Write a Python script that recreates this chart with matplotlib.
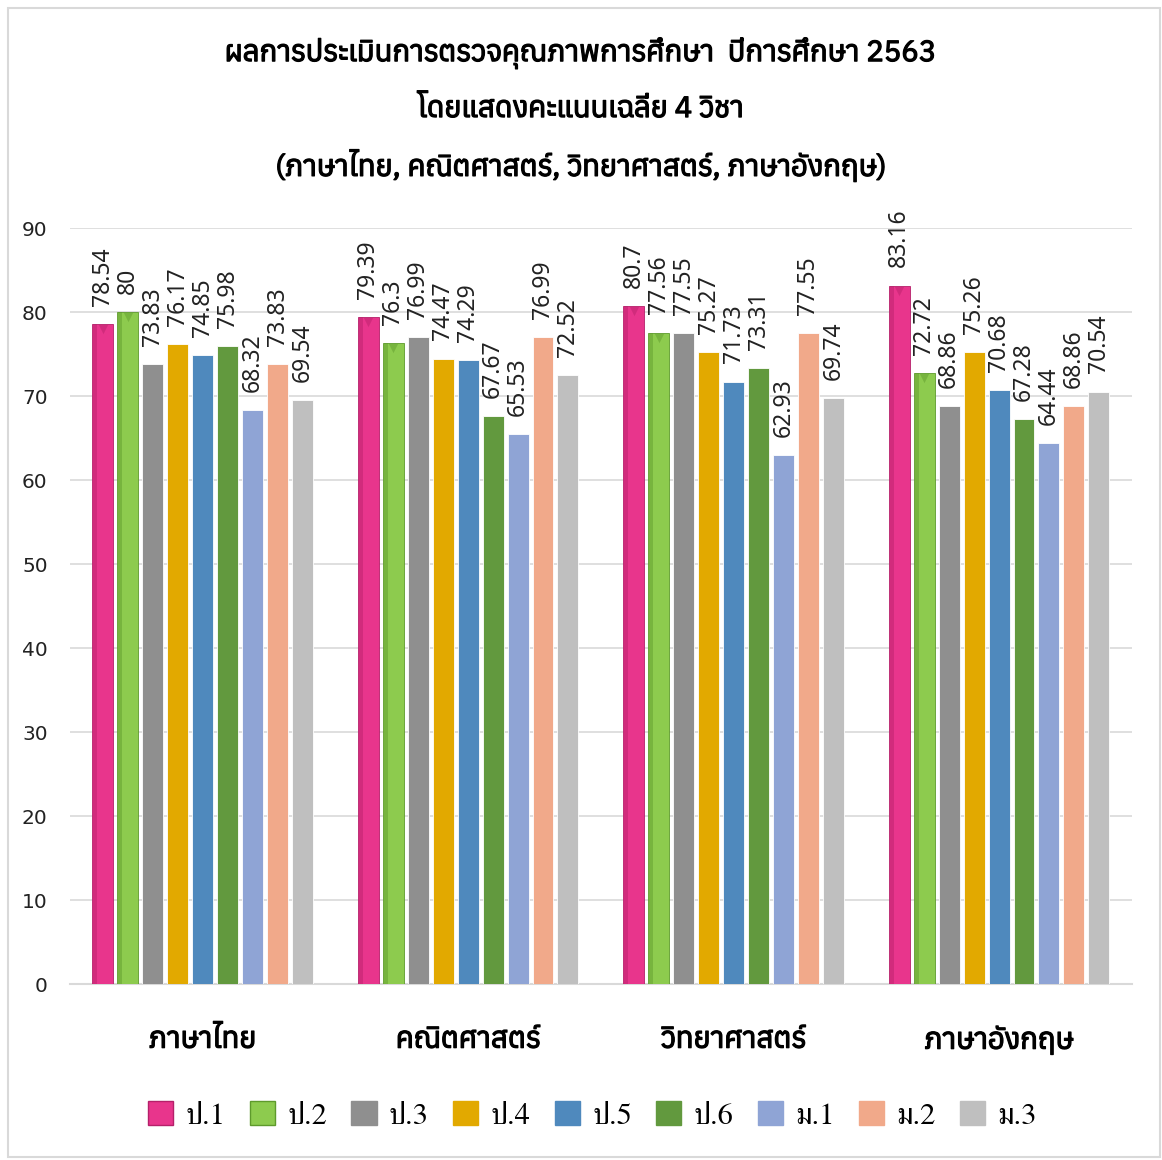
import matplotlib
matplotlib.use("Agg")
from matplotlib import pyplot as plt
from matplotlib import font_manager
from matplotlib import patheffects
from matplotlib.ft2font import FT2Font
from matplotlib.patches import Patch, Rectangle
import numpy as np

# data
subjects = ["ภาษาไทย", "คณิตศาสตร์", "วิทยาศาสตร์", "ภาษาอังกฤษ"]
grades = ["ป.1", "ป.2", "ป.3", "ป.4", "ป.5", "ป.6", "ม.1", "ม.2", "ม.3"]
thai = [78.54, 80, 73.83, 76.17, 74.85, 75.98, 68.32, 73.83, 69.54]
math = [79.39, 76.3, 76.99, 74.47, 74.29, 67.67, 65.53, 76.99, 72.52]
science = [80.7, 77.56, 77.55, 75.27, 71.73, 73.31, 62.93, 77.55, 69.74]
english = [83.16, 72.72, 68.86, 75.26, 70.68, 67.28, 64.44, 68.86, 70.54]
labels = [["78.54", "80", "73.83", "76.17", "74.85", "75.98", "68.32", "73.83", "69.54"],
          ["79.39", "76.3", "76.99", "74.47", "74.29", "67.67", "65.53", "76.99", "72.52"],
          ["80.7", "77.56", "77.55", "75.27", "71.73", "73.31", "62.93", "77.55", "69.74"],
          ["83.16", "72.72", "68.86", "75.26", "70.68", "67.28", "64.44", "68.86", "70.54"]]

colors = ["#E8358C", "#8DCB4E", "#8F8F8F", "#E2A900", "#4F89BD",
          "#62993E", "#8FA4D5", "#F1A98A", "#BFBFBF"]
dark = ["#B5206A", "#5E9A2C"]

# find fonts that can draw thai
thai_fonts = []
for f in font_manager.fontManager.ttflist:
    try:
        if 0x0E01 in FT2Font(f.fname).get_charmap():
            thai_fonts.append(f.name)
    except Exception:
        pass
thai_fonts = sorted(set(thai_fonts))
serif_thai = [n for n in thai_fonts if "Serif" in n]
sans_thai = [n for n in thai_fonts if "Serif" not in n] or thai_fonts
title_family = sans_thai[:1] + ["DejaVu Sans"]
legend_family = (serif_thai or sans_thai)[:1] + ["DejaVu Serif"]

# fake bold, the thai font may have only one weight
bold = [patheffects.withStroke(linewidth=0.9, foreground="black")]

data = np.array([thai, math, science, english])
n = len(grades)
step = 0.094
width = 0.079
x = np.arange(len(subjects))

fig = plt.figure(figsize=(11.62, 11.60), dpi=100)
fig.patches.append(Rectangle((0.007, 0.003), 0.991, 0.99, transform=fig.transFigure,
                             fill=False, edgecolor="#D9D9D9", linewidth=1.5))
ax = fig.add_axes([0.0602, 0.1517, 0.9138, 0.6517])

for i in range(n):
    pos = x + (i - (n - 1) / 2) * step
    ax.bar(pos, data[:, i], width, color=colors[i], zorder=3,
           edgecolor="white" if i > 1 else dark[i], linewidth=0.6)
    if i < 2:
        # bevel look: darker left strip + triangle at top
        ax.bar(pos - width * 0.36, data[:, i], width * 0.2, color=dark[i],
               alpha=0.45, zorder=4, linewidth=0)
        ax.scatter(pos, data[:, i] - 0.6, marker="v", s=45, color=dark[i],
                   alpha=0.45, zorder=5, linewidths=0)
    for j in range(len(subjects)):
        ax.annotate(labels[j][i], (pos[j], data[j, i]), xytext=(0, 13),
                    textcoords="offset points", rotation=90, ha="center",
                    va="bottom", fontsize=16.5, family="Noto Sans", color="#222222")

ax.set_xlim(-0.5, 3.5)
ax.set_ylim(0, 90)
ax.set_yticks(range(0, 91, 10))
ax.yaxis.grid(True, color="#D9D9D9", linewidth=1.2, zorder=0)
ax.set_axisbelow(True)
for s in ["top", "right", "left"]:
    ax.spines[s].set_visible(False)
ax.spines["bottom"].set_color("#D9D9D9")
ax.spines["bottom"].set_linewidth(1.5)
ax.tick_params(axis="both", length=0)
ax.tick_params(axis="y", labelsize=14.5, pad=16, labelcolor="#222222")
for t in ax.get_yticklabels():
    t.set_family("DejaVu Sans")
ax.set_xticks(x)
ax.set_xticklabels(subjects, family=title_family, fontsize=21, path_effects=bold)
ax.tick_params(axis="x", pad=30)

fig.text(0.5, 0.954, "ผลการประเมินการตรวจคุณภาพการศึกษา  ปีการศึกษา 2563",
         ha="center", va="center", fontsize=21, family=title_family, path_effects=bold)
fig.text(0.5, 0.906, "โดยแสดงคะแนนเฉลี่ย 4 วิชา",
         ha="center", va="center", fontsize=21, family=title_family, path_effects=bold)
fig.text(0.5, 0.857, "(ภาษาไทย, คณิตศาสตร์, วิทยาศาสตร์, ภาษาอังกฤษ)",
         ha="center", va="center", fontsize=21, family=title_family, path_effects=bold)

handles = [Patch(facecolor=colors[i], edgecolor=dark[i] if i < 2 else colors[i])
           for i in range(n)]
fig.legend(handles, grades, loc="center", bbox_to_anchor=(0.51, 0.038), ncol=n,
           frameon=False, prop={"family": legend_family, "size": 22},
           handlelength=0.82, handleheight=0.82, handletextpad=0.4, columnspacing=0.8)

fig.savefig("out.png", dpi=100)
